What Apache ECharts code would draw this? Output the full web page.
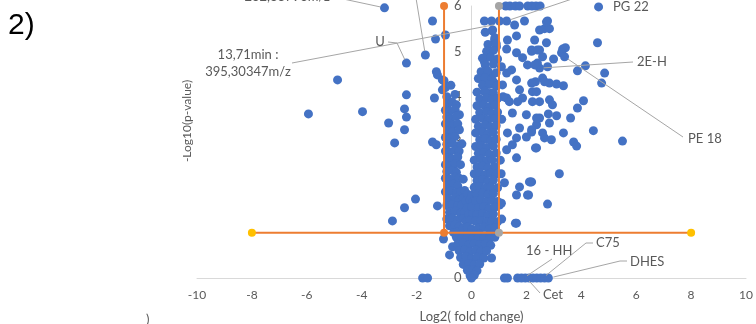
<!DOCTYPE html>
<html>
<head>
<meta charset="utf-8">
<script src="https://cdn.jsdelivr.net/npm/echarts@6/dist/echarts.min.js"></script>
<style>
  html, body { margin: 0; padding: 0; background: #fff; }
  #chart { width: 756px; height: 324px; }
</style>
</head>
<body>
<div id="chart"></div>
<script>
// Axis ticks
const xTicks = [-10, -8, -6, -4, -2, 0, 2, 4, 6, 8, 10];
const yTicks = [0, 1, 2, 3, 4, 5, 6];

// Thresholds: |log2 FC| = 1 and -log10(p) = 1
const fcCut = 1;
const pCut = 1;
const yTop = 6;
const xSpan = 8;

// Scattered significant features, left side
const sigLeft = [
  [-3.17, 5.96], [-1.42, 5.67], [-1.31, 5.27], [-1.68, 4.92], [-2.37, 4.74], [-4.88, 4.37],
  [-1.28, 4.55], [-1.24, 4.48], [-1.06, 4.37], [-1.35, 3.97], [-2.37, 4.04], [-5.94, 3.62],
  [-3.97, 3.67], [-2.44, 3.73], [-2.37, 3.55], [-3.02, 3.42], [-2.44, 3.27], [-2.8, 2.98],
  [-1.42, 3.0], [-1.28, 2.94], [-2.04, 1.74], [-2.44, 1.55], [-2.88, 1.26], [-1.24, 1.59],
  [-1.02, 0.86], [-0.69, 0.69], [-0.8, 0.51], [-0.95, 5.36], [-1.06, 4.15], [-1.0, 4.35]
];

// Scattered significant features, right side
const sigRight = [
  [4.63, 5.98], [4.59, 5.19], [2.77, 5.67], [2.66, 5.5], [2.84, 5.5], [2.3, 5.25], [2.73, 5.19],
  [2.19, 5.03], [2.48, 5.03], [3.32, 5.05], [3.42, 5.08], [3.28, 4.97], [3.39, 4.88], [2.99, 4.83],
  [2.4, 4.74], [2.48, 4.63], [3.86, 4.57], [4.15, 4.68], [4.85, 4.52], [4.74, 4.3], [2.59, 4.41],
  [2.33, 4.33], [2.84, 4.3], [3.1, 4.28], [3.35, 4.24], [2.22, 4.11], [2.22, 3.89], [2.48, 3.89],
  [2.84, 3.93], [2.95, 3.82], [4.08, 3.91], [3.86, 3.75], [3.61, 3.53], [3.1, 3.58], [2.8, 3.62],
  [2.84, 3.42], [2.48, 3.53], [2.37, 3.38], [2.19, 3.27], [2.59, 3.2], [2.66, 3.09], [2.91, 3.05],
  [3.35, 3.2], [3.72, 3.0], [3.83, 2.91], [4.44, 3.25], [5.5, 3.02], [2.33, 2.87], [3.2, 2.3],
  [2.19, 2.12], [1.75, 2.01], [1.64, 1.83], [2.08, 1.83], [2.15, 2.12], [2.77, 1.63], [1.6, 1.21],
  [1.02, 1.61], [1.09, 1.65],
  [1.25, 6], [1.4, 6], [1.6, 6], [1.75, 6], [2.05, 6], [2.2, 6], [2.35, 6], [2.5, 6],
  [0.47, 5.67], [0.73, 5.67], [1.02, 5.67], [1.28, 5.67], [0.77, 5.47], [1.57, 5.58], [1.93, 5.67],
  [2.48, 5.47], [2.73, 5.65], [1.64, 5.34], [0.84, 5.25], [1.31, 5.25], [0.91, 5.1], [1.28, 5.05],
  [0.66, 4.92], [0.47, 4.77], [1.64, 4.97], [1.86, 4.86], [2.19, 5.0], [2.4, 5.03], [2.04, 4.7],
  [1.09, 4.66], [1.28, 4.52], [1.46, 4.59], [1.64, 4.37], [0.73, 4.48], [0.47, 4.33], [0.84, 4.3],
  [1.13, 4.26], [0.47, 4.11], [0.73, 4.08], [1.75, 4.15], [1.86, 3.97], [2.19, 4.3], [2.37, 4.11],
  [2.66, 4.33], [2.59, 4.88], [2.3, 4.7], [2.77, 4.66], [1.28, 3.97],
  [1.38, 3.89], [1.68, 3.89], [1.49, 3.64], [2.0, 3.6], [2.37, 3.53], [1.75, 3.31], [1.31, 3.2],
  [1.64, 3.09], [2.19, 3.22], [2.0, 3.11], [1.49, 2.94], [1.28, 2.83], [1.64, 2.65], [2.37, 2.87],
  [1.2, 2.1], [2.11, 2.12], [1.64, 1.21], [2.04, 1.83], [1.1, 3.5], [1.05, 2.6], [1.15, 4.0],
  [1.1, 1.3], [1.08, 2.3]
];

// Dense column just left of zero
const coreLeft = [
  [-0.95, 4.2], [-0.75, 4.25], [-0.9, 4.0], [-0.6, 4.05], [-0.85, 3.85], [-0.7, 3.88], [-0.55, 3.82],
  [-0.95, 3.7], [-0.8, 3.68], [-0.6, 3.72], [-0.44, 3.6], [-0.9, 3.55], [-0.75, 3.52], [-0.55, 3.57],
  [-0.95, 3.4], [-0.8, 3.42], [-0.65, 3.38], [-0.5, 3.4], [-0.85, 3.25], [-0.7, 3.22], [-0.44, 3.27],
  [-0.95, 3.1], [-0.75, 3.08], [-0.6, 3.12], [-0.9, 2.95], [-0.7, 2.97], [-0.5, 2.92], [-0.35, 2.96],
  [-0.95, 2.8], [-0.8, 2.78], [-0.6, 2.82], [-0.45, 2.8], [-0.85, 2.65], [-0.7, 2.63], [-0.5, 2.67],
  [-0.95, 2.5], [-0.75, 2.48], [-0.6, 2.52], [-0.4, 2.5], [-0.9, 2.35], [-0.7, 2.37], [-0.55, 2.33],
  [-0.95, 2.2], [-0.8, 2.18], [-0.6, 2.22], [-0.45, 2.2], [-0.3, 2.18], [-0.85, 2.05], [-0.65, 2.07],
  [-0.5, 2.03], [-0.95, 1.9], [-0.75, 1.92], [-0.55, 1.88], [-0.4, 1.9], [-0.25, 1.93],
  [-0.85, 1.75], [-0.6, 1.77], [-0.45, 1.73], [-0.3, 1.76], [-0.9, 1.6], [-0.7, 1.62], [-0.5, 1.58],
  [-0.35, 1.61], [-0.8, 1.45], [-0.6, 1.47], [-0.4, 1.43], [-0.25, 1.46], [-0.9, 1.3], [-0.7, 1.32],
  [-0.5, 1.28], [-0.3, 1.31], [-0.8, 1.15], [-0.6, 1.17], [-0.45, 1.13], [-0.65, 1.0], [-0.5, 1.02],
  [-0.35, 0.98], [-0.15, 1.85], [0.0, 1.83], [-0.2, 1.7], [-0.05, 1.72], [0.05, 1.68], [-0.15, 1.55],
  [0.0, 1.57], [-0.1, 1.4], [0.05, 1.42], [-0.2, 1.25], [-0.05, 1.27], [-0.3, 1.1], [-0.15, 1.12],
  [0.0, 1.08], [-0.2, 0.95], [-0.05, 0.97]
];

// Dense column just right of zero
const coreRight = [
  [0.75, 5.45], [0.5, 5.42], [0.85, 5.3], [0.6, 5.15], [0.9, 5.17], [0.55, 5.0], [0.8, 5.02],
  [0.4, 4.85], [0.7, 4.87], [0.95, 4.83], [0.5, 4.7], [0.8, 4.72], [0.35, 4.55], [0.6, 4.57],
  [0.9, 4.53], [0.25, 4.4], [0.5, 4.42], [0.75, 4.38], [0.4, 4.25], [0.65, 4.27], [0.9, 4.23],
  [0.2, 4.1], [0.5, 4.12], [0.8, 4.08], [0.3, 3.95], [0.55, 3.97], [0.75, 3.93], [0.95, 3.96],
  [0.2, 3.8], [0.45, 3.82], [0.65, 3.78], [0.85, 3.81], [0.3, 3.65], [0.55, 3.67], [0.75, 3.63],
  [0.95, 3.66], [0.15, 3.5], [0.4, 3.52], [0.6, 3.48], [0.85, 3.51], [0.25, 3.35], [0.5, 3.37],
  [0.7, 3.33], [0.9, 3.36], [0.15, 3.2], [0.4, 3.22], [0.6, 3.18], [0.8, 3.21], [0.3, 3.05],
  [0.5, 3.07], [0.7, 3.03], [0.9, 3.06], [0.15, 2.9], [0.35, 2.92], [0.55, 2.88], [0.8, 2.91],
  [0.25, 2.75], [0.45, 2.77], [0.65, 2.73], [0.9, 2.76], [0.1, 2.6], [0.35, 2.62], [0.55, 2.58],
  [0.75, 2.61], [0.2, 2.45], [0.4, 2.47], [0.6, 2.43], [0.85, 2.46], [0.1, 2.3], [0.3, 2.32],
  [0.5, 2.28], [0.7, 2.31], [0.9, 2.29], [0.2, 2.15], [0.4, 2.17], [0.6, 2.13], [0.8, 2.16],
  [0.1, 2.0], [0.3, 2.02], [0.5, 1.98], [0.7, 2.01], [0.95, 1.99], [0.2, 1.85], [0.4, 1.87],
  [0.6, 1.83], [0.8, 1.86], [0.15, 1.7], [0.35, 1.72], [0.55, 1.68], [0.75, 1.71], [0.95, 1.69],
  [0.25, 1.55], [0.45, 1.57], [0.65, 1.53], [0.85, 1.56], [0.2, 1.4], [0.4, 1.42], [0.6, 1.38],
  [0.8, 1.41], [0.15, 1.25], [0.35, 1.27], [0.55, 1.23], [0.75, 1.26], [0.95, 1.24], [0.25, 1.1],
  [0.45, 1.12], [0.65, 1.08], [0.85, 1.11], [0.1, 0.95], [0.3, 0.97], [0.5, 0.93], [0.7, 0.96]
];

// Narrow funnel of non-significant features near the origin
const funnel = [
  [-0.55, 0.9], [-0.35, 0.88], [-0.15, 0.91], [0.05, 0.87], [0.25, 0.9], [0.45, 0.88], [0.65, 0.86],
  [0.85, 0.9], [-0.5, 0.75], [-0.3, 0.77], [-0.1, 0.73], [0.1, 0.76], [0.3, 0.74], [0.5, 0.75],
  [0.7, 0.72], [-0.45, 0.6], [-0.25, 0.62], [-0.05, 0.58], [0.15, 0.61], [0.35, 0.59], [0.55, 0.6],
  [-0.4, 0.45], [-0.2, 0.47], [0.0, 0.43], [0.2, 0.46], [0.45, 0.44], [-0.3, 0.3], [-0.1, 0.32],
  [0.1, 0.28], [0.3, 0.31], [-0.15, 0.17], [0.05, 0.18], [0.2, 0.16], [-0.05, 0.05], [0.1, 0.06],
  [0.0, 0.0], [0.73, 0.44]
];

// Features with p = 1 (sit on the x axis)
const zeroRow = [
  [-1.78, 0], [-1.6, 0], [1.2, 0], [1.31, 0], [1.68, 0], [1.82, 0], [1.96, 0], [2.1, 0],
  [2.24, 0], [2.38, 0], [2.52, 0], [2.66, 0], [2.8, 0]
];

// Annotated features: label text and the feature each leader points at
const noteTexts = ['232,88793m/z', '13,71min :\n395,30347m/z', 'U', 'PG 22', '2E-H', 'PE 18',
  '16 - HH', 'C75', 'DHES', 'Cet'];
const notePoints = [[-3.17, 5.96], [0.95, 5.6], [-2.37, 4.74], null, [2.48, 4.63], [3.39, 4.88],
  [1.9, 0], [2.6, 0], [2.84, 0], [2.0, 0]];

const blue = '#4472C4';
const orange = '#ED7D31';
const grey = '#A5A5A5';
const gold = '#FFC000';
const textGrey = '#595959';
const font = 'Lato, "Open Sans", sans-serif';

const chart = echarts.init(document.getElementById('chart'));

const gridLeft = 197;
const gridRight = 10;
// y axis sits on x = 0, which is the middle of the symmetric x range
const yAxisShift = -(756 - gridLeft - gridRight) / 2;

const option = {
  animation: false,
  backgroundColor: '#fff',
  grid: { left: gridLeft, right: gridRight, top: 6, bottom: 46, outerBoundsMode: 'none' },
  xAxis: {
    type: 'value', min: xTicks[0], max: xTicks[xTicks.length - 1], interval: 2,
    axisLine: { lineStyle: { color: '#D9D9D9' } },
    axisTick: { show: false },
    splitLine: { show: false },
    axisLabel: { color: textGrey, fontSize: 12, fontFamily: font, margin: 11 },
    name: 'Log2( fold change)', nameLocation: 'middle', nameGap: 32,
    nameTextStyle: { color: textGrey, fontSize: 13, fontFamily: font }
  },
  yAxis: {
    type: 'value', min: yTicks[0], max: yTicks[yTicks.length - 1], interval: 1,
    offset: yAxisShift,
    axisLine: { show: true, onZero: false, lineStyle: { color: '#D9D9D9' } },
    axisTick: { show: false },
    splitLine: { show: false },
    axisLabel: { color: textGrey, fontSize: 13, fontFamily: font, margin: 10 }
  },
  series: [
    {
      name: 'features', type: 'scatter', symbolSize: 9,
      itemStyle: { color: blue, opacity: 1 },
      data: [].concat(sigLeft, sigRight, coreLeft, coreRight, funnel, zeroRow)
    },
    {
      name: 'down cut', type: 'line', symbol: 'circle', symbolSize: 8,
      lineStyle: { color: orange, width: 2 }, itemStyle: { color: orange },
      data: [[-fcCut, pCut], [-fcCut, yTop]]
    },
    {
      name: 'up cut', type: 'line', symbol: 'circle', symbolSize: 8,
      lineStyle: { color: orange, width: 2 }, itemStyle: { color: grey },
      data: [[fcCut, pCut], [fcCut, yTop]]
    },
    {
      name: 'p cut', type: 'line', symbol: 'circle', symbolSize: 8,
      lineStyle: { color: orange, width: 2 }, itemStyle: { color: gold },
      data: [[-xSpan, pCut], [xSpan, pCut]]
    }
  ]
};
chart.setOption(option);

// Leader lines + labels, positioned after the grid exists
function px(p) { return chart.convertToPixel({ gridIndex: 0 }, p); }
function shorten(a, b, d) {
  const dx = b[0] - a[0], dy = b[1] - a[1];
  const len = Math.sqrt(dx * dx + dy * dy);
  return [b[0] - dx / len * d, b[1] - dy / len * d];
}
function label(text, x, y, align) {
  return {
    type: 'text', z: 20,
    style: {
      text: text, x: x, y: y, fill: textGrey, fontSize: 13, fontFamily: font, lineHeight: 17,
      align: align, textAlign: align, verticalAlign: 'middle', textVerticalAlign: 'middle'
    }
  };
}
function leader(points) {
  return {
    type: 'polyline', z: 15, silent: true,
    shape: { points: points },
    style: { stroke: '#A6A6A6', lineWidth: 1, fill: null }
  };
}
function toPoint(starts, i) {
  const p = px(notePoints[i]);
  const pts = starts.slice();
  pts.push(shorten(starts[starts.length - 1], p, 4));
  return leader(pts);
}

const graphics = [
  label('2)', 8, 26, 'left'),
  label(noteTexts[0], 330, -3, 'right'),
  toPoint([[334, -3]], 0),
  label(noteTexts[1], 248, 63, 'center'),
  toPoint([[292, 63]], 1),
  label(noteTexts[2], 380, 42, 'center'),
  toPoint([[388, 42], [397, 43]], 2),
  label(noteTexts[3], 613, 7, 'left'),
  label(noteTexts[4], 637, 62, 'left'),
  toPoint([[633, 62]], 4),
  label(noteTexts[5], 688, 139, 'left'),
  toPoint([[683, 137]], 5),
  label(noteTexts[6], 526, 251, 'left'),
  toPoint([[552, 259]], 6),
  label(noteTexts[7], 596, 243, 'left'),
  toPoint([[593, 243], [586, 243]], 7),
  label(noteTexts[8], 630, 262, 'left'),
  toPoint([[627, 261], [620, 261]], 8),
  label(noteTexts[9], 543, 295, 'left'),
  toPoint([[540, 293]], 9),
  // leaders whose labels sit above the cropped top edge
  leader([[416, -2], shorten([416, -2], px([-1.68, 4.92]), 4)]),
  leader([[575, -2], shorten([575, -2], px([1.28, 5.67]), 4)]),
  {
    type: 'text', z: 20, x: 187, y: 121, rotation: Math.PI / 2,
    style: {
      text: '-Log10(p-value)', x: 0, y: 0, fill: textGrey, fontSize: 12, fontFamily: font,
      align: 'center', textAlign: 'center', verticalAlign: 'middle', textVerticalAlign: 'middle'
    }
  },
  label(')', 146, 320, 'left')
];
// the panel number is bigger and black
graphics[0].style.fontSize = 30;
graphics[0].style.fontFamily = '"Liberation Sans", Arial, sans-serif';
graphics[0].style.fill = '#000';

chart.setOption({ graphic: graphics });
</script>
</body>
</html>
